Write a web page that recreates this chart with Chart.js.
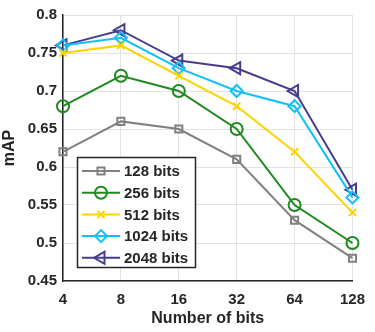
<!DOCTYPE html>
<html>
<head>
<meta charset="utf-8">
<script src="https://cdn.jsdelivr.net/npm/chart.js@4.4.1/dist/chart.umd.min.js"></script>
<style>
  html, body { margin: 0; padding: 0; background: #fff; }
  #wrap { width: 375px; height: 332px; }
</style>
</head>
<body>
<div id="wrap"><canvas id="mapChart" width="375" height="332"></canvas></div>
<script>
// --- data ---
const bitLabels = ['4', '8', '16', '32', '64', '128'];
const yTicks = [0.45, 0.5, 0.55, 0.6, 0.65, 0.7, 0.75, 0.8];
const seriesNames = ['128 bits', '256 bits', '512 bits', '1024 bits', '2048 bits'];
const map128 = [0.62, 0.66, 0.65, 0.61, 0.53, 0.48];
const map256 = [0.68, 0.72, 0.70, 0.65, 0.55, 0.50];
const map512 = [0.75, 0.76, 0.72, 0.68, 0.62, 0.54];
const map1024 = [0.76, 0.77, 0.73, 0.70, 0.68, 0.56];
const map2048 = [0.76, 0.78, 0.74, 0.73, 0.70, 0.57];

const FONT = 'Liberation Sans, Arial, Helvetica, sans-serif';
const INK = '#262626';

const styles = [
    { color: '#808080', style: 'rect', radius: 5, rot: 0 },
    { color: '#1f8a1f', style: 'circle', radius: 6, rot: 0 },
    { color: '#ffd200', style: 'crossRot', radius: 5, rot: 0 },
    { color: '#11c0f5', style: 'rectRot', radius: 6, rot: 0 },
    { color: '#463c8c', style: 'triangle', radius: 7, rot: -90 }
];

const allSeries = [map128, map256, map512, map1024, map2048];
const datasets = allSeries.map((vals, i) => ({
    label: seriesNames[i],
    data: vals,
    borderColor: styles[i].color,
    backgroundColor: 'transparent',
    borderWidth: 2,
    pointStyle: styles[i].style,
    pointRadius: styles[i].radius,
    pointRotation: styles[i].rot,
    pointBorderWidth: 2,
    pointBorderColor: styles[i].color,
    pointBackgroundColor: 'transparent',
    tension: 0,
    clip: false
}));

// legend drawn inside the plot, matlab style
const insideLegend = {
    id: 'insideLegend',
    afterDraw(chart) {
        const ctx = chart.ctx;
        const x0 = 77, y0 = 157, w = 118, h = 110;
        ctx.save();
        ctx.fillStyle = '#fff';
        ctx.fillRect(x0, y0, w, h);
        ctx.strokeStyle = INK;
        ctx.lineWidth = 1.5;
        ctx.strokeRect(x0 + 0.5, y0 + 0.5, w, h);
        chart.data.datasets.forEach((ds, i) => {
            const y = 171 + i * 21.7;
            ctx.strokeStyle = ds.borderColor;
            ctx.lineWidth = 2;
            ctx.beginPath();
            ctx.moveTo(82, y);
            ctx.lineTo(120, y);
            ctx.stroke();
            ctx.fillStyle = 'rgba(0,0,0,0)';
            Chart.helpers.drawPoint(ctx, {
                pointStyle: ds.pointStyle,
                rotation: ds.pointRotation,
                radius: ds.pointRadius,
                borderWidth: 2
            }, 101, y);
            ctx.fillStyle = INK;
            ctx.font = 'bold 15px ' + FONT;
            ctx.textBaseline = 'middle';
            ctx.textAlign = 'left';
            ctx.fillText(ds.label, 124, y + 1);
        });
        ctx.restore();
    }
};

document.addEventListener('DOMContentLoaded', () => {
    const ctx = document.getElementById('mapChart').getContext('2d');
    new Chart(ctx, {
        type: 'line',
        data: { labels: bitLabels, datasets: datasets },
        options: {
            responsive: false,
            animation: false,
            layout: { padding: { top: 7, right: 19, left: 0, bottom: 0 } },
            plugins: {
                legend: { display: false },
                tooltip: { enabled: false }
            },
            scales: {
                x: {
                    type: 'category',
                    offset: false,
                    grid: { color: '#e3e3e3', lineWidth: 1, drawTicks: false },
                    border: { color: INK, width: 1.5 },
                    ticks: { color: INK, font: { family: FONT, size: 15, weight: 'bold' }, padding: 10, maxRotation: 0 },
                    title: { display: true, text: 'Number of bits', color: INK, font: { family: FONT, size: 16, weight: 'bold' }, padding: { top: 0, bottom: 4 } },
                    afterFit: (scale) => { scale.height = 51; }
                },
                y: {
                    min: 0.45,
                    max: 0.8,
                    afterBuildTicks: (scale) => { scale.ticks = yTicks.map(v => ({ value: v })); },
                    grid: { color: '#e3e3e3', lineWidth: 1, drawTicks: false },
                    border: { color: INK, width: 1.5 },
                    ticks: {
                        color: INK,
                        font: { family: FONT, size: 15, weight: 'bold' },
                        padding: 6,
                        callback: (v) => String(+Number(v).toFixed(2))
                    },
                    title: { display: true, text: 'mAP', color: INK, font: { family: FONT, size: 16, weight: 'bold' }, padding: { top: 0, bottom: 2 } },
                    afterFit: (scale) => { scale.width = 63; }
                }
            }
        },
        plugins: [insideLegend]
    });
});
</script>
</body>
</html>
